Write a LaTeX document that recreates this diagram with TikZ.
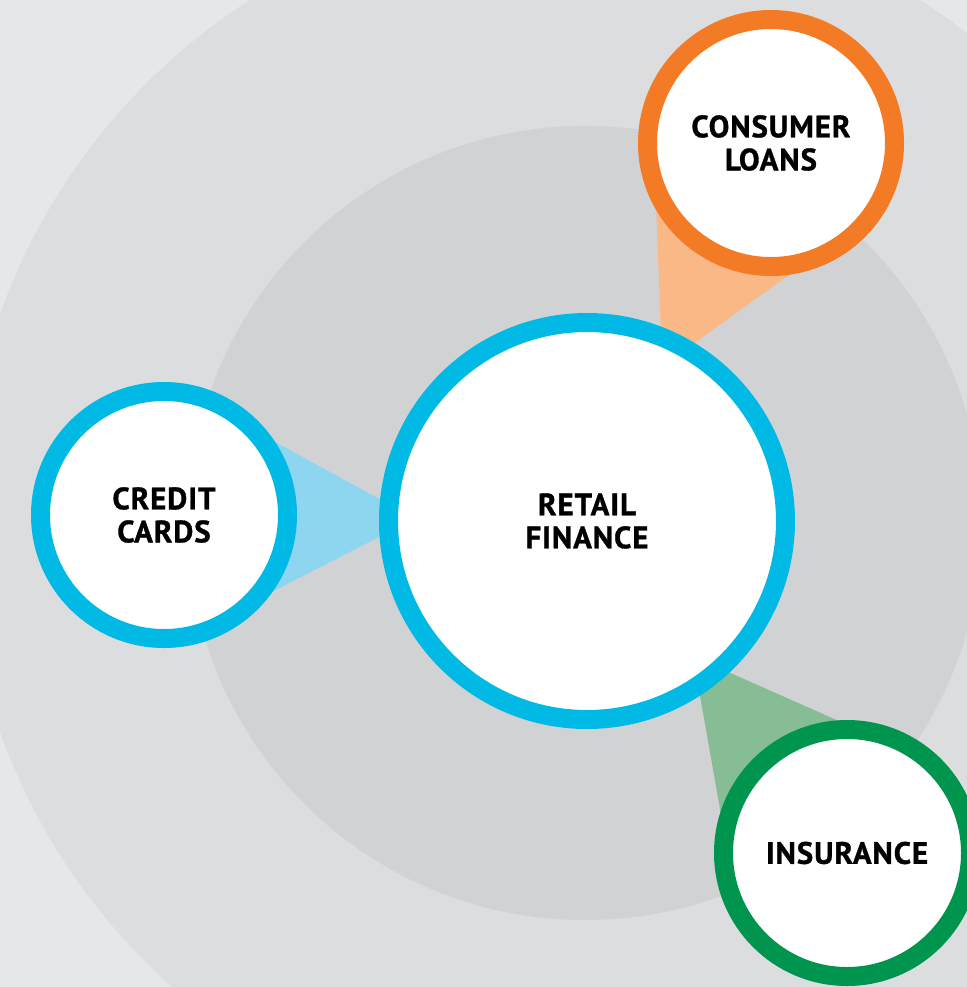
\documentclass[tikz,border=0pt]{standalone}
\usepackage{fontspec}
\setmainfont{PT Sans}
\newfontfamily\labelfont[LetterSpace=3,FakeBold=1]{PT Sans}
\usetikzlibrary{calc}
\pgfdeclarelayer{background}
\pgfsetlayers{background,main}

\definecolor{paper}{HTML}{E6E7E8}
\definecolor{bandouter}{HTML}{DCDDDF}
\definecolor{bandinner}{HTML}{D1D2D4}
\definecolor{ringblue}{HTML}{00B9E4}
\definecolor{ringorange}{HTML}{F47B25}
\definecolor{ringgreen}{HTML}{00954F}
\definecolor{coneblue}{HTML}{8ED5EF}
\definecolor{coneorange}{HTML}{F9B886}
\definecolor{conegreen}{HTML}{86BD94}

\begin{document}
\begin{tikzpicture}
			[x=1cm,y=-1cm,line cap=round,
			%Styles
			ring/.style={circle,draw=#1,line width=1.9mm,fill=white,align=center,
				text=black,font=\labelfont\bfseries\fontsize{8.8}{9.4}\selectfont},
			hub/.style={ring=ringblue,minimum size=3.97cm},
			satellite/.style={ring=#1,minimum size=2.47cm},
			cone/.style={fill=#1}
			]
			
			\useasboundingbox (0,0) rectangle (9.67,9.87);
			
			%The graphic
			\node[hub] (RF) at (5.87, 5.21) {RETAIL\\FINANCE};
			\node[satellite=ringblue] (CC) at (1.64, 5.15) {CREDIT\\CARDS};
			\node[satellite=ringorange] (CL) at (7.71, 1.43) {CONSUMER\\LOANS};
			\node[satellite=ringgreen] (IN) at (8.47, 8.53) {INSURANCE};
			
			\begin{pgfonlayer}{background}
				%Backdrop
				\fill[paper] (0,0) rectangle (9.67,9.87);
				\fill[bandouter] (5.85, 5.23) circle (6.21);
				\fill[bandinner] (5.85, 5.23) circle (3.97);
				
				%Cones
				\foreach \sat/\col in {CC/coneblue, CL/coneorange, IN/conegreen}
					\fill[cone=\col] ($(RF)!1.72cm!(\sat)$)
						-- ($(\sat)!1.33cm!90:(RF)$)
						-- ($(\sat)!1.33cm!-90:(RF)$) -- cycle;
			\end{pgfonlayer}
		\end{tikzpicture}
\end{document}
